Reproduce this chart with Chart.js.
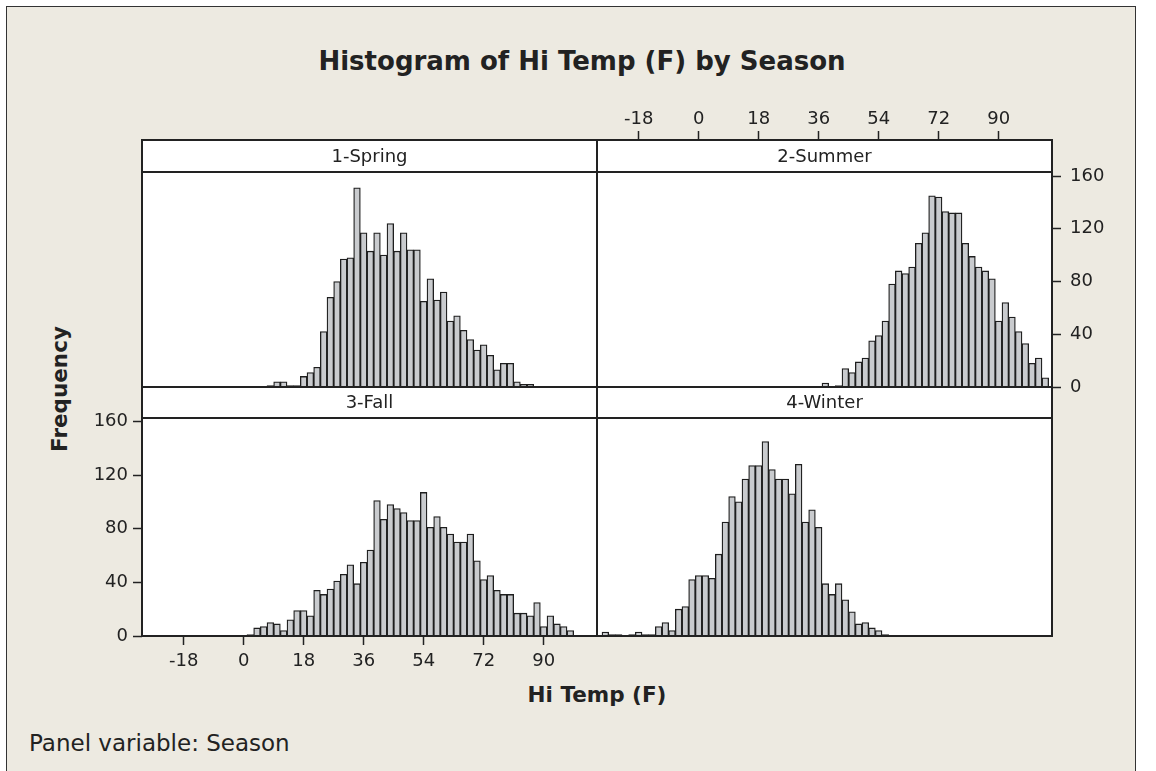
<!DOCTYPE html>
<html>
<head>
<meta charset="utf-8">
<script src="https://cdn.jsdelivr.net/npm/chart.js@4.4.1/dist/chart.umd.min.js"></script>
<style>
  body { margin: 0; background: #fff; }
  #wrap { position: relative; width: 1156px; height: 771px; overflow: hidden; background: #fff; }
  #bg { position: absolute; left: 6px; top: 6px; width: 1130px; height: 800px; background: #edeae1; border: 1px solid #333; box-sizing: border-box; }
  canvas { position: absolute; }
  .txt { position: absolute; color: #222; font-family: "DejaVu Sans", sans-serif; white-space: nowrap; line-height: 1; }
</style>
</head>
<body>
<div id="wrap">
  <div id="bg"></div>
  <div class="txt" style="left:582px; top:61px; transform:translate(-50%,-50%); font-size:26px; font-weight:bold;">Histogram of Hi Temp (F) by Season</div>
  <div class="txt" style="left:597px; top:695px; transform:translate(-50%,-50%); font-size:21.5px; font-weight:bold;">Hi Temp (F)</div>
  <div class="txt" style="left:60px; top:389px; transform:translate(-50%,-50%) rotate(-90deg); font-size:21.5px; font-weight:bold;">Frequency</div>
  <div class="txt" style="left:29px; top:743px; transform:translateY(-50%); font-size:23px;">Panel variable: Season</div>
</div>
<script>
// bin centres (2 F wide bins) shared by all four panels
const binCenters = [-28, -26, -24, -22, -20, -18, -16, -14, -12, -10, -8, -6, -4, -2, 0, 2, 4, 6, 8, 10,
  12, 14, 16, 18, 20, 22, 24, 26, 28, 30, 32, 34, 36, 38, 40, 42, 44, 46, 48, 50,
  52, 54, 56, 58, 60, 62, 64, 66, 68, 70, 72, 74, 76, 78, 80, 82, 84, 86, 88, 90,
  92, 94, 96, 98, 100, 102, 104];

const springCounts = [0, 0, 0, 0, 0, 0, 0, 0, 0, 0, 0, 0, 0, 0, 0, 0, 0, 0,
  1, 4, 4, 1, 1, 8, 11, 15, 42, 68, 80, 97, 98, 151, 117, 103, 117, 100, 124, 103, 117, 104,
  104, 65, 82, 66, 72, 50, 54, 43, 36, 28, 32, 24, 13, 18, 18, 4, 2, 2,
  0, 0, 0, 0, 0, 0, 0, 0, 0];

const summerCounts = [0, 0, 0, 0, 0, 0, 0, 0, 0, 0, 0, 0, 0, 0, 0, 0, 0, 0, 0, 0,
  0, 0, 0, 0, 0, 0, 0, 0, 0, 0, 0, 0, 0,
  3, 0, 1, 14, 11, 19, 22, 35, 39, 50, 78, 88, 86, 91, 109, 117, 145, 144, 133, 132,
  132, 109, 99, 91, 88, 82, 50, 64, 53, 42, 33, 18, 22, 7];

const fallCounts = [0, 0, 0, 0, 0, 0, 0, 0, 0, 0, 0, 0, 0, 0, 0,
  1, 6, 7, 10, 9, 4, 12, 19, 19, 15, 34, 31, 35, 41, 46, 53, 39, 55, 64, 101,
  87, 98, 95, 92, 86, 86, 107, 81, 89, 81, 76, 70, 70, 76, 56, 42, 45, 34, 31, 31,
  17, 17, 15, 25, 7, 15, 9, 7, 4,
  0, 0, 0];

const winterCounts = [3, 1, 1, 0, 1, 3, 1, 1, 7, 10, 4, 20, 22, 42, 45, 45, 43, 61, 85, 104,
  100, 117, 127, 127, 145, 124, 117, 117, 106, 128, 85, 94, 81, 39, 31, 39, 27, 18, 9, 10,
  6, 4, 1,
  0, 0, 0, 0, 0, 0, 0, 0, 0, 0, 0, 0, 0, 0, 0, 0, 0, 0, 0, 0, 0, 0, 0, 0, 0];

const xTicks = [-18, 0, 18, 36, 54, 72, 90];
const yTicks = [0, 40, 80, 120, 160];

const xMin = -30.5, xMax = 106;
const M = 70; // canvas margin round each panel

Chart.defaults.font.family = '"DejaVu Sans", sans-serif';
Chart.defaults.color = '#222';

// white panel, strip header and frame
const panelFrame = {
  id: 'panelFrame',
  beforeDraw(chart) {
    const a = chart.chartArea, c = chart.ctx;
    c.save();
    c.fillStyle = '#fff';
    c.fillRect(a.left, a.top, a.right - a.left, a.bottom - a.top);
    c.restore();
  },
  afterDraw(chart, args, o) {
    const a = chart.chartArea, c = chart.ctx;
    c.save();
    c.fillStyle = '#fff';
    c.fillRect(a.left, a.top, a.right - a.left, o.strip);
    c.strokeStyle = '#222';
    c.lineWidth = 2;
    c.strokeRect(a.left, a.top, a.right - a.left, a.bottom - a.top);
    c.beginPath();
    c.moveTo(a.left, a.top + o.strip);
    c.lineTo(a.right, a.top + o.strip);
    c.stroke();
    c.fillStyle = '#222';
    c.font = '18px "DejaVu Sans"';
    c.textAlign = 'center';
    c.textBaseline = 'middle';
    c.fillText(o.label, (a.left + a.right) / 2, a.top + o.strip / 2 + 1);
    c.restore();
  }
};

const panels = [
  { label: '1-Spring', counts: springCounts, x: 142, y: 140, w: 455, h: 247, strip: 32, yMax: 187.3, xPos: null, yPos: null },
  { label: '2-Summer', counts: summerCounts, x: 597, y: 140, w: 455, h: 247, strip: 32, yMax: 187.3, xPos: 'top', yPos: 'right' },
  { label: '3-Fall', counts: fallCounts, x: 142, y: 387, w: 455, h: 249, strip: 31, yMax: 185.6, xPos: 'bottom', yPos: 'left' },
  { label: '4-Winter', counts: winterCounts, x: 597, y: 387, w: 455, h: 249, strip: 31, yMax: 185.6, xPos: null, yPos: null }
];

const wrap = document.getElementById('wrap');
const tickFont = { family: '"DejaVu Sans", sans-serif', size: 18 };

panels.forEach(p => {
  const cv = document.createElement('canvas');
  cv.width = p.w + 2 * M;
  cv.height = p.h + 2 * M;
  cv.style.left = (p.x - M) + 'px';
  cv.style.top = (p.y - M) + 'px';
  cv.style.width = cv.width + 'px';
  cv.style.height = cv.height + 'px';
  wrap.appendChild(cv);

  const pad = { left: M, right: M, top: M, bottom: M };
  if (p.yPos) pad[p.yPos] = M - 60;
  if (p.xPos) pad[p.xPos] = M - 50;

  new Chart(cv, {
    type: 'bar',
    data: {
      datasets: [{
        data: binCenters.map((b, i) => ({ x: b, y: p.counts[i] })),
        backgroundColor: '#c9cbce',
        borderColor: '#1e1e1e',
        borderWidth: 1.3,
        categoryPercentage: 1,
        barPercentage: 1
      }]
    },
    options: {
      responsive: false,
      animation: false,
      devicePixelRatio: 1,
      layout: { padding: pad },
      plugins: {
        legend: { display: false },
        tooltip: { enabled: false },
        panelFrame: { label: p.label, strip: p.strip }
      },
      scales: {
        x: {
          type: 'linear',
          display: !!p.xPos,
          position: p.xPos || 'bottom',
          min: xMin,
          max: xMax,
          offset: false,
          afterBuildTicks: s => { s.ticks = xTicks.map(v => ({ value: v })); },
          afterFit: s => { s.height = p.xPos ? 50 : 0; },
          grid: { offset: false, drawOnChartArea: false, tickLength: 9, tickColor: '#222', tickWidth: 1.5 },
          border: { display: false },
          ticks: { padding: p.xPos === 'top' ? 1 : 6, maxRotation: 0, autoSkip: false, color: '#222', font: tickFont }
        },
        y: {
          display: !!p.yPos,
          position: p.yPos || 'left',
          min: 0,
          max: p.yMax,
          afterBuildTicks: s => { s.ticks = yTicks.map(v => ({ value: v })); },
          afterFit: s => { s.width = p.yPos ? 60 : 0; },
          grid: { drawOnChartArea: false, tickLength: 9, tickColor: '#222', tickWidth: 1.5 },
          border: { display: false },
          ticks: { padding: p.yPos === 'right' ? 9 : 5, color: '#222', font: tickFont }
        }
      }
    },
    plugins: [panelFrame]
  });
});
</script>
</body>
</html>
